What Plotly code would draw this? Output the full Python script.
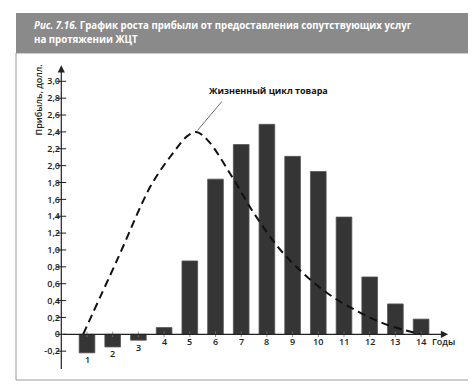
import plotly.graph_objects as go

years = list(range(1, 15))
profit = [-0.22, -0.15, -0.07, 0.08, 0.87, 1.84, 2.25, 2.49, 2.11, 1.93, 1.39, 0.68, 0.36, 0.18]

curve_x = [0.85, 2.2, 3.5, 4.4, 4.9, 5.25, 5.7, 6.6, 7.55, 8.7, 10.25, 11.55, 12.7, 14.0]
curve_y = [0.0, 0.9, 1.77, 2.17, 2.35, 2.4, 2.3, 1.89, 1.41, 0.94, 0.51, 0.27, 0.11, 0.0]

y_ticks = [round(-0.2 + 0.2 * i, 1) for i in range(17)]
y_ticklabels = [("0" if abs(v) < 1e-9 else f"{v:.1f}".replace(".", ",")) for v in y_ticks]

title_line1 = "<i>Рис. 7.16.</i> График роста прибыли от предоставления сопутствующих услуг"
title_line2 = "на протяжении ЖЦТ"
y_title = "Прибыль, долл."
x_title = "Годы"
curve_label = "Жизненный цикл товара"

W, H = 476, 387
px_per_x = 25.7
px_per_y = 84.33
x1_px, y0_px = 79, 326.3
xr = [1 - x1_px / px_per_x, 1 + (W - x1_px) / px_per_x]
yr = [-(H - y0_px) / px_per_y, y0_px / px_per_y]

font = "Open Sans"
dark = "#222222"

fig = go.Figure()
fig.add_trace(go.Bar(x=years, y=profit, width=0.61,
                     marker=dict(color="#353535", line=dict(color="#555555", width=0.8)),
                     hoverinfo="skip"))
fig.add_trace(go.Scatter(x=curve_x, y=curve_y, mode="lines",
                         line=dict(color="#111111", width=2, dash="8px,5px", shape="spline", smoothing=1.0),
                         hoverinfo="skip"))
# y-axis tick crosses
fig.add_trace(go.Scatter(x=[0] * len(y_ticks), y=y_ticks, mode="markers",
                         marker=dict(symbol="line-ew", size=7, line=dict(color=dark, width=1)),
                         hoverinfo="skip"))
# x-axis small ticks
fig.add_trace(go.Scatter(x=years, y=[0] * len(years), mode="markers",
                         marker=dict(symbol="line-ns", size=4, line=dict(color="#777777", width=0.8)),
                         hoverinfo="skip"))

tick_font = dict(family=font, size=9, color=dark, weight=600)
ann = []
# axes arrows
ann.append(dict(x=15.05, y=0, ax=0, ay=0, xref="x", yref="y", axref="x", ayref="y",
                text="", showarrow=True, arrowhead=2, arrowsize=1.2, arrowwidth=1.2, arrowcolor=dark))
ann.append(dict(x=0, y=3.19, ax=0, ay=-0.43, xref="x", yref="y", axref="x", ayref="y",
                text="", showarrow=True, arrowhead=2, arrowsize=1.2, arrowwidth=1.2, arrowcolor=dark))
# x tick labels
for yr_, v in zip(years, profit):
    ann.append(dict(x=yr_, y=min(v, 0), xref="x", yref="y", text=str(yr_), showarrow=False,
                    yanchor="middle", yshift=-7, font=tick_font))
ann.append(dict(x=14.89, y=0, xref="x", yref="y", text=x_title, showarrow=False,
                yanchor="middle", yshift=-7, font=tick_font))
# y title
ann.append(dict(x=30 / W, y=1 - 55 / H, xref="paper", yref="paper", text=y_title, textangle=-90,
                showarrow=False, xanchor="center", yanchor="top",
                font=dict(family=font, size=9, color=dark, weight=600)))
# curve label + leader
peak_i = curve_y.index(max(curve_y))
ann.append(dict(x=curve_x[peak_i], y=curve_y[peak_i], xref="x", yref="y", text="", showarrow=True,
                ax=27, ay=-32, arrowhead=0, arrowwidth=0.8, arrowcolor="#444444", standoff=2))
ann.append(dict(x=260 / W, y=1 - 83 / H, xref="paper", yref="paper", text=curve_label, showarrow=False,
                xanchor="center", yanchor="middle",
                font=dict(family=font, size=9, color="#111111", weight="bold")))
# title
ann.append(dict(x=24 / W, y=1 - 17 / H, xref="paper", yref="paper", text=title_line1, showarrow=False,
                xanchor="left", yanchor="middle", font=dict(family=font, size=9.7, color="white", weight="bold")))
ann.append(dict(x=24 / W, y=1 - 32 / H, xref="paper", yref="paper", text=title_line2, showarrow=False,
                xanchor="left", yanchor="middle", font=dict(family=font, size=9.7, color="white", weight="bold")))

shapes = [
    dict(type="rect", xref="paper", yref="paper", x0=8 / W, x1=470 / W, y0=1 - 372 / H, y1=1 - 45 / H,
         line=dict(color="#9a9a9a", width=1), fillcolor="rgba(0,0,0,0)", layer="below"),
    dict(type="rect", xref="paper", yref="paper", x0=8 / W, x1=470 / W, y0=1 - 45 / H, y1=1 - 5 / H,
         line=dict(width=0), fillcolor="#8a8a8a", layer="below"),
]

fig.update_layout(
    width=W, height=H, margin=dict(l=0, r=0, t=0, b=0),
    paper_bgcolor="white", plot_bgcolor="rgba(0,0,0,0)",
    showlegend=False, annotations=ann, shapes=shapes,
    xaxis=dict(range=xr, visible=False, fixedrange=True),
    yaxis=dict(range=yr, anchor="free", position=54 / W, showgrid=False, zeroline=False, showline=False,
               tickvals=y_ticks, ticktext=y_ticklabels, ticks="", ticklabelstandoff=2,
               tickfont=tick_font, fixedrange=True),
)

fig.write_html("out.html")
